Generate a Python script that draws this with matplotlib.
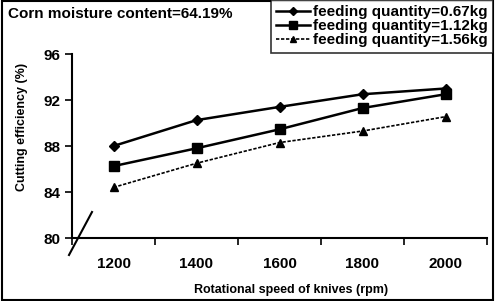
import matplotlib.pyplot as plt
from matplotlib.lines import Line2D
from matplotlib.patches import Rectangle

# Cutting efficiency vs knife speed at three feeding quantities
speeds = ['1200', '1400', '1600', '1800', '2000']
eff_067 = [88.0, 90.25, 91.4, 92.5, 93.0]
eff_112 = [86.25, 87.8, 89.45, 91.3, 92.5]
eff_156 = [84.4, 86.5, 88.3, 89.3, 90.55]
labels = ['feeding quantity=0.67kg', 'feeding quantity=1.12kg', 'feeding quantity=1.56kg']

plt.rcParams['font.family'] = ['Liberation Sans', 'DejaVu Sans']
plt.rcParams['font.weight'] = 'bold'

fig = plt.figure(figsize=(4.95, 3.01), dpi=100)
ax = fig.add_axes([72 / 495, 1 - 238 / 301, 415 / 495, 184 / 301])

x = range(len(speeds))
ax.plot(x, eff_067, color='black', lw=1.8, marker='D', ms=5, label=labels[0])
ax.plot(x, eff_112, color='black', lw=1.8, marker='s', ms=7, label=labels[1])
ax.plot(x, eff_156, color='black', lw=1.2, ls=(0, (2, 1)), marker='^', ms=6, label=labels[2])

ax.set_xlim(-0.5, len(speeds) - 0.5)
ax.set_ylim(80, 96)
ax.set_yticks([80, 84, 88, 92, 96])
ax.tick_params(axis='y', labelsize=11, length=5, width=1.2, direction='out')
ax.set_xticks([i - 0.5 for i in range(len(speeds) + 1)])
ax.set_xticklabels([])
ax.set_xticks(list(x), minor=True)
ax.set_xticklabels(speeds, minor=True, fontsize=11)
ax.tick_params(axis='x', which='major', length=5, width=1.2, direction='out')
ax.tick_params(axis='x', which='minor', length=0, pad=14)

for s in ['top', 'right']:
    ax.spines[s].set_visible(False)
for s in ['left', 'bottom']:
    ax.spines[s].set_linewidth(1.5)

fig.text(291 / 495, 1 - 290 / 301, 'Rotational speed of knives (rpm)', fontsize=9,
         fontweight='bold', ha='center', va='center')
fig.text(22 / 495, 1 - 127 / 301, 'Cutting efficiency (%)', fontsize=9,
         fontweight='bold', ha='center', va='center', rotation=90)

# axis break mark
fig.add_artist(Line2D([69 / 495, 92 / 495], [1 - 255 / 301, 1 - 212 / 301], color='black', lw=1.5))

fig.text(8 / 495, 1 - 14 / 301, 'Corn moisture content=64.19%', fontsize=11,
         fontweight='bold', va='center')

leg = fig.legend(loc='upper right', bbox_to_anchor=(493 / 495, 1.0), frameon=True,
                 fancybox=False, edgecolor='black', fontsize=11, handlelength=2.2,
                 handletextpad=0.2, borderpad=0.35, labelspacing=0.0, borderaxespad=0,
                 markerscale=0.75)
leg.get_frame().set_linewidth(1.2)

# outer border
fig.add_artist(Rectangle((0.004, 0.002), 0.992, 0.996, transform=fig.transFigure,
                         fill=False, color='black', lw=1.5))

fig.savefig('out.png', dpi=100)
